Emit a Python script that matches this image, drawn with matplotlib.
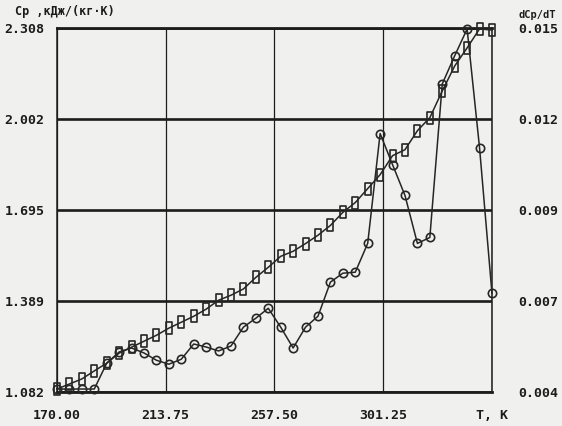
import matplotlib.pyplot as plt
from matplotlib.path import Path

# temperature, K
temp = [170, 175, 180, 185, 190, 195, 200, 205, 210, 215, 220, 225,
        230, 235, 240, 245, 250, 255, 260, 265, 270, 275, 280, 285,
        290, 295, 300, 305, 310, 315, 320, 325, 330, 335, 340, 345]

# heat capacity Cp, kJ/(kg K)  (squares, left axis)
cp = [1.092, 1.109, 1.126, 1.153, 1.179, 1.213, 1.233, 1.253, 1.273, 1.297, 1.317, 1.337,
      1.361, 1.391, 1.408, 1.429, 1.468, 1.502, 1.539, 1.556, 1.582, 1.610, 1.643, 1.687,
      1.720, 1.767, 1.814, 1.878, 1.898, 1.962, 2.006, 2.096, 2.180, 2.241, 2.305, 2.301]

# dCp/dT  (circles, right axis)
dcp = [0.00409, 0.00409, 0.00409, 0.00409, 0.00487, 0.00521, 0.00533, 0.00518, 0.00496, 0.00484, 0.00499, 0.00545,
       0.00536, 0.00524, 0.00539, 0.00596, 0.00623, 0.00653, 0.00596, 0.00533, 0.00596, 0.00629, 0.00732, 0.00759,
       0.00762, 0.00849, 0.01181, 0.01087, 0.00994, 0.00849, 0.00867, 0.01331, 0.01416, 0.01497, 0.01138, 0.00698]

x_ticks = [170, 213.75, 257.5, 301.25, 345]
x_labels = ["170.00", "213.75", "257.50", "301.25", "T, K"]
cp_ticks = [1.082, 1.3885, 1.695, 2.0015, 2.308]
cp_labels = ["1.082", "1.389", "1.695", "2.002", "2.308"]
d_ticks = [0.004, 0.00675, 0.0095, 0.01225, 0.015]
d_labels = ["0.004", "0.007", "0.009", "0.012", "0.015"]

bg = "#f0f0ee"
ink = "#1c1c1c"
font = dict(family="DejaVu Sans Mono", weight="bold", size=9.5, color=ink)

# tall open box marker like the plotter's
box = Path([(-0.3, -0.6), (0.3, -0.6), (0.3, 0.6), (-0.3, 0.6), (-0.3, -0.6)],
           [Path.MOVETO, Path.LINETO, Path.LINETO, Path.LINETO, Path.CLOSEPOLY])

fig = plt.figure(figsize=(5.62, 4.26), dpi=100, facecolor=bg)
ax = fig.add_axes([0.1014, 0.0798, 0.774, 0.8545], facecolor=bg)

ax.set_xlim(170, 345)
ax.set_ylim(1.082, 2.308)
ax.set_xticks(x_ticks)
ax.set_xticklabels(x_labels, fontdict=font)
ax.set_yticks(cp_ticks)
ax.set_yticklabels(cp_labels, fontdict=font)
ax.tick_params(axis="x", length=0, pad=12)
ax.tick_params(axis="y", length=0, pad=9)
ax.grid(axis="y", color=ink, lw=1.9)
ax.grid(axis="x", color=ink, lw=0.9)
for side in ["top", "bottom"]:
    ax.spines[side].set_linewidth(2.0)
    ax.spines[side].set_color(ink)
for side in ["left", "right"]:
    ax.spines[side].set_linewidth(1.1)
    ax.spines[side].set_color(ink)

ax.plot(temp, cp, color="#262626", lw=1.1, marker=box, markersize=9,
        mfc="none", mec="#262626", mew=1.2, clip_on=False, zorder=3)

ax2 = ax.twinx()
ax2.set_ylim(0.004, 0.015)
ax2.set_yticks(d_ticks)
ax2.set_yticklabels(d_labels, fontdict=font)
ax2.tick_params(axis="y", length=0, pad=19)
for side in ["top", "bottom", "left", "right"]:
    ax2.spines[side].set_visible(False)
ax2.plot(temp, dcp, color="#262626", lw=1.1, marker="o", markersize=6,
         mfc="none", mec="#262626", mew=1.2, clip_on=False, zorder=3)

fig.text(0.027, 0.972, "Cp ,кДж/(кг·К)", ha="left", va="center",
         family="DejaVu Sans Mono", weight="bold", size=8.5, color=ink)
fig.text(0.922, 0.965, "dCp/dT", ha="left", va="center",
         family="DejaVu Sans Mono", weight="bold", size=7.5, color=ink)

plt.savefig("out.png", dpi=100, facecolor=bg)
